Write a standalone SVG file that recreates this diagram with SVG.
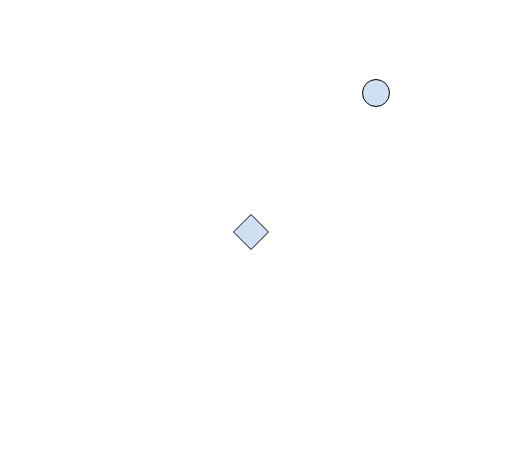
<svg xmlns="http://www.w3.org/2000/svg" width="530" height="471" viewBox="0 0 530 471">
<style>
.shape{fill:#cfe0f3;stroke:#000;stroke-width:1}
</style>
<rect width="530" height="471" fill="#fff"/>
<g id="connectors"></g>
<g id="node-circle"><circle class="shape" cx="376" cy="93" r="13.5"/></g>
<g id="node-diamond"><polygon class="shape" points="251,214.5 268.5,232 251,249.5 233.5,232"/></g>
</svg>
